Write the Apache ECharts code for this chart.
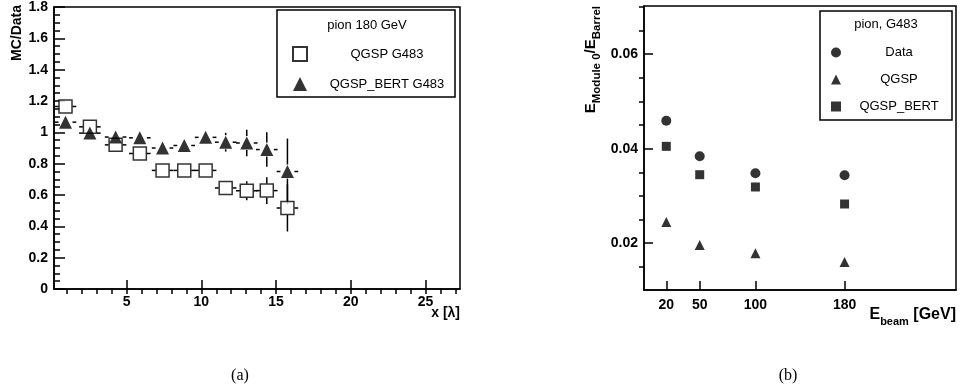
<!DOCTYPE html>
<html>
<head>
<meta charset="utf-8">
<script src="https://cdn.jsdelivr.net/npm/echarts@6/dist/echarts.min.js"></script>
<style>
  html, body { margin: 0; padding: 0; background: #fff; }
  #main { width: 960px; height: 391px; }
</style>
</head>
<body>
<div id="main"></div>
<script>
// panel (a): MC/Data ratio per layer depth
const layerX = [0.92, 2.55, 4.27, 5.89, 7.41, 8.86, 10.29, 11.63, 13.04, 14.38, 15.76];
const qgspRatio = [1.165, 1.035, 0.92, 0.865, 0.757, 0.757, 0.757, 0.645, 0.627, 0.628, 0.517];
const qgspErr = [0.02, 0.02, 0.02, 0.02, 0.02, 0.02, 0.02, 0.045, 0.06, 0.085, 0.15];
const bertRatio = [1.065, 0.995, 0.97, 0.965, 0.9, 0.916, 0.968, 0.937, 0.932, 0.89, 0.75];
const bertErr = [0.015, 0.015, 0.02, 0.02, 0.02, 0.025, 0.045, 0.06, 0.085, 0.11, 0.21];
const binHalfWidth = 0.72;
const xMajorTicks = [5, 10, 15, 20, 25];
const xMinorTicks = [1, 2, 3, 4, 5, 6, 7, 8, 9, 10, 11, 12, 13, 14, 15, 16, 17, 18, 19, 20, 21, 22, 23, 24, 25, 26, 27];

// panel (b): energy fraction in module 0
const beamE = [20, 50, 100, 180];
const dataFrac = [0.0459, 0.0384, 0.0348, 0.0344];
const qgspFrac = [0.0245, 0.0196, 0.0179, 0.016];
const bertFrac = [0.0405, 0.0345, 0.0319, 0.0283];
const fracMajorTicks = [0.02, 0.04, 0.06];
const fracMinorTicks = [0.015, 0.025, 0.03, 0.035, 0.045, 0.05, 0.055, 0.065, 0.07];

const FONT = 'Liberation Sans, Arial, Helvetica, sans-serif';

let myChart = echarts.init(document.getElementById('main'));

function pairs(xs, ys) {
    return xs.map((x, i) => [x, ys[i]]);
}
function triples(xs, ys, es) {
    return xs.map((x, i) => [x, ys[i], es[i]]);
}

// error bars with a small gap around the marker, like ROOT draws them
function errorBars(params, api) {
    let x = api.value(0), y = api.value(1), e = api.value(2);
    let c = api.coord([x, y]);
    let l = api.coord([x - binHalfWidth, y]);
    let r = api.coord([x + binHalfWidth, y]);
    let t = api.coord([x, y + e]);
    let b = api.coord([x, y - e]);
    let gap = 7;
    let style = { stroke: '#000', lineWidth: 1.5 };
    let children = [
        { type: 'line', shape: { x1: l[0], y1: c[1], x2: c[0] - gap, y2: c[1] }, style: style },
        { type: 'line', shape: { x1: c[0] + gap, y1: c[1], x2: r[0], y2: c[1] }, style: style },
    ];
    if (c[1] - t[1] > gap) {
        children.push({ type: 'line', shape: { x1: c[0], y1: t[1], x2: c[0], y2: c[1] - gap }, style: style });
    }
    if (b[1] - c[1] > gap) {
        children.push({ type: 'line', shape: { x1: c[0], y1: c[1] + gap, x2: c[0], y2: b[1] }, style: style });
    }
    return { type: 'group', children: children };
}

let axisLine = { show: true, onZero: false, lineStyle: { color: '#000', width: 1.5 } };
let labelStyle = { color: '#000', fontFamily: FONT, fontWeight: 'bold', fontSize: 14 };

let option = {
    backgroundColor: '#ffffff',
    animation: false,
    grid: [
        { left: 54, top: 5, width: 406, height: 284, show: true, borderColor: '#000', borderWidth: 1.5, backgroundColor: 'transparent' },
        { left: 644, top: 6, width: 312, height: 284, show: true, borderColor: '#000', borderWidth: 1.5, backgroundColor: 'transparent' },
    ],
    xAxis: [
        {
            gridIndex: 0, type: 'value', min: 0.15, max: 27.3,
            axisLine: axisLine,
            axisTick: { show: true, inside: true, length: 9, customValues: xMajorTicks, lineStyle: { color: '#000', width: 1.5 } },
            axisLabel: Object.assign({ customValues: xMajorTicks, margin: 6 }, labelStyle),
            splitLine: { show: false },
        },
        {
            gridIndex: 0, type: 'value', min: 0.15, max: 27.3,
            axisLine: { show: false },
            axisTick: { show: true, inside: true, length: 5, customValues: xMinorTicks, lineStyle: { color: '#000', width: 1.5 } },
            axisLabel: { show: false },
            splitLine: { show: false },
        },
        {
            gridIndex: 1, type: 'value', min: 0, max: 280,
            axisLine: axisLine,
            axisTick: { show: true, inside: true, length: 9, customValues: beamE, lineStyle: { color: '#000', width: 1.5 } },
            axisLabel: Object.assign({ customValues: beamE, margin: 8 }, labelStyle),
            splitLine: { show: false },
        },
    ],
    yAxis: [
        {
            gridIndex: 0, type: 'value', min: 0, max: 1.8, interval: 0.2,
            axisLine: axisLine,
            axisTick: { show: true, inside: true, length: 11, lineStyle: { color: '#000', width: 1.5 } },
            minorTick: { show: true, splitNumber: 4, length: 6, lineStyle: { color: '#000', width: 1.5 } },
            axisLabel: Object.assign({ margin: 6 }, labelStyle),
            splitLine: { show: false },
        },
        {
            gridIndex: 1, type: 'value', min: 0.0101, max: 0.0702,
            axisLine: axisLine,
            axisTick: { show: true, inside: true, length: 9, customValues: fracMajorTicks, lineStyle: { color: '#000', width: 1.5 } },
            axisLabel: Object.assign({ customValues: fracMajorTicks, margin: 6 }, labelStyle),
            splitLine: { show: false },
        },
        {
            gridIndex: 1, type: 'value', min: 0.0101, max: 0.0702,
            axisLine: { show: false },
            axisTick: { show: true, inside: true, length: 5, customValues: fracMinorTicks, lineStyle: { color: '#000', width: 1.5 } },
            axisLabel: { show: false },
            splitLine: { show: false },
        },
    ],
    legend: [
        {
            data: ['QGSP G483', 'QGSP_BERT G483'],
            orient: 'vertical', left: 292, top: 46, padding: 0,
            itemWidth: 14, itemHeight: 14, itemGap: 15,
            selectedMode: false,
            formatter: name => '{c|' + name + '}',
            textStyle: { rich: { c: { width: 150, lineHeight: 14, align: 'center', fontSize: 13, color: '#000', fontFamily: FONT } } },
        },
        {
            data: ['Data', 'QGSP', 'QGSP_BERT'],
            orient: 'vertical', left: 831, top: 46, padding: 0,
            itemWidth: 10, itemHeight: 10, itemGap: 14,
            selectedMode: false,
            formatter: name => '{c|' + name + '}',
            textStyle: { rich: { c: { width: 106, lineHeight: 10, align: 'center', fontSize: 13, color: '#000', fontFamily: FONT } } },
        },
    ],
    series: [
        {
            name: 'bert err', type: 'custom', xAxisIndex: 0, yAxisIndex: 0,
            renderItem: errorBars, data: triples(layerX, bertRatio, bertErr), z: 2,
        },
        {
            name: 'qgsp err', type: 'custom', xAxisIndex: 0, yAxisIndex: 0,
            renderItem: errorBars, data: triples(layerX, qgspRatio, qgspErr), z: 2,
        },
        {
            name: 'QGSP G483', type: 'scatter', xAxisIndex: 0, yAxisIndex: 0,
            symbol: 'rect', symbolSize: 13,
            itemStyle: { color: '#fff', borderColor: '#000', borderWidth: 1.5 },
            data: pairs(layerX, qgspRatio), z: 3,
        },
        {
            name: 'QGSP_BERT G483', type: 'scatter', xAxisIndex: 0, yAxisIndex: 0,
            symbol: 'triangle', symbolSize: 13,
            itemStyle: { color: '#000' },
            data: pairs(layerX, bertRatio), z: 4,
        },
        {
            name: 'Data', type: 'scatter', xAxisIndex: 2, yAxisIndex: 1,
            symbol: 'circle', symbolSize: 10,
            itemStyle: { color: '#000' },
            data: pairs(beamE, dataFrac),
        },
        {
            name: 'QGSP', type: 'scatter', xAxisIndex: 2, yAxisIndex: 1,
            symbol: 'triangle', symbolSize: 10,
            itemStyle: { color: '#000' },
            data: pairs(beamE, qgspFrac),
        },
        {
            name: 'QGSP_BERT', type: 'scatter', xAxisIndex: 2, yAxisIndex: 1,
            symbol: 'rect', symbolSize: 9,
            itemStyle: { color: '#000' },
            data: pairs(beamE, bertFrac),
        },
    ],
    graphic: [
        // legend frames and headers
        { type: 'rect', shape: { x: 277, y: 10, width: 178, height: 87 }, style: { fill: '#fff', stroke: '#000', lineWidth: 1.5 }, z: 1 },
        { type: 'text', x: 367, y: 25, style: { text: 'pion 180 GeV', font: '13px ' + FONT, fill: '#000', align: 'center', verticalAlign: 'middle' }, z: 5 },
        { type: 'rect', shape: { x: 820, y: 11, width: 132, height: 109 }, style: { fill: '#fff', stroke: '#000', lineWidth: 1.5 }, z: 1 },
        { type: 'text', x: 886, y: 24, style: { text: 'pion, G483', font: '13px ' + FONT, fill: '#000', align: 'center', verticalAlign: 'middle' }, z: 5 },
        // axis titles
        { type: 'text', x: 17, y: 5, rotation: Math.PI / 2, style: { text: 'MC/Data', font: 'bold 14px ' + FONT, fill: '#000', align: 'right', verticalAlign: 'middle' } },
        { type: 'text', x: 460, y: 313, style: { text: 'x [λ]', font: 'bold 14px ' + FONT, fill: '#000', align: 'right', verticalAlign: 'middle' } },
        {
            type: 'text', x: 593, y: 6, rotation: Math.PI / 2,
            style: {
                text: '{a|E}{b|Module 0}{a|/E}{b|Barrel}',
                align: 'right', verticalAlign: 'middle', fill: '#000',
                rich: {
                    a: { fontSize: 15, fontWeight: 'bold', fontFamily: FONT, verticalAlign: 'top', lineHeight: 17 },
                    b: { fontSize: 11.5, fontWeight: 'bold', fontFamily: FONT, verticalAlign: 'top', padding: [8, 0, 0, 0] },
                },
            },
        },
        {
            type: 'text', x: 956, y: 317,
            style: {
                text: '{a|E}{b|beam}{a| [GeV]}',
                align: 'right', verticalAlign: 'middle', fill: '#000',
                rich: {
                    a: { fontSize: 16, fontWeight: 'bold', fontFamily: FONT, verticalAlign: 'top', lineHeight: 18 },
                    b: { fontSize: 11, fontWeight: 'bold', fontFamily: FONT, verticalAlign: 'top', padding: [9, 0, 0, 0] },
                },
            },
        },
        // panel captions
        { type: 'text', x: 240, y: 376, style: { text: '(a)', font: '16px Liberation Serif, Times New Roman, serif', fill: '#000', align: 'center', verticalAlign: 'middle' } },
        { type: 'text', x: 788, y: 376, style: { text: '(b)', font: '16px Liberation Serif, Times New Roman, serif', fill: '#000', align: 'center', verticalAlign: 'middle' } },
    ],
};
myChart.setOption(option);
</script>
</body>
</html>
